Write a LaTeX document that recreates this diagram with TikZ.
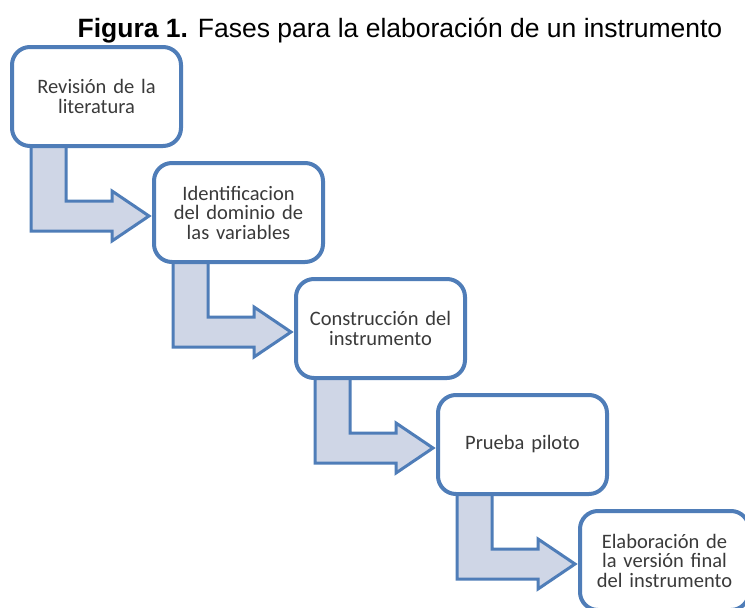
\documentclass[tikz,border=0pt]{standalone}
\usepackage{fontspec}
\setmainfont{Carlito}
\newfontfamily\titlefont{Liberation Sans}
\usetikzlibrary{calc}
\definecolor{boxblue}{HTML}{4F7DB8}
\definecolor{arrfill}{HTML}{CFD6E6}
\definecolor{txtgray}{HTML}{3A3A3A}
\begin{document}
\begin{tikzpicture}[x=1pt,y=-1pt,
  stage/.style={draw=boxblue, line width=4pt, fill=white, rounded corners=18pt,
    minimum width=169pt, minimum height=99pt, inner sep=0pt, align=center,
    text width=166pt, text=txtgray, font=\fontsize{20.5}{19.5}\selectfont},
  bentarrow/.style={draw=boxblue, line width=3pt, fill=arrfill, line join=miter}]
\useasboundingbox (0,0) rectangle (745,608);
\clip (0,0) rectangle (745,608);
\fill[white] (0,0) rectangle (745,608);
\node[anchor=base, font=\titlefont\fontsize{26.5}{30}\selectfont] (title) at (400,37)
  {\textbf{Figura 1.} Fases para la elaboración de un instrumento};
\path (96.5,96.5) coordinate (c1) ++(142,116) coordinate (c2) ++(142,116) coordinate (c3)
  ++(142,116) coordinate (c4) ++(142,116) coordinate (c5);
\foreach \i in {1,...,5} {
  \path (c\i) node[stage, draw=none, fill=none] (b\i) {};
}
\foreach \a/\b in {b1/b2,b2/b3,b3/b4,b4/b5} {
  \path[bentarrow] let \p1=(\a.south west), \p2=(\b.north west) in
    (\x1+21pt,\y1+10pt) -- (\x1+21pt,\y2-70pt) -- (\x2-40pt,\y2-70pt)
    -- (\x2-40pt,\y2-80pt) -- (\x2-3pt,\y2-55pt) -- (\x2-40pt,\y2-30pt)
    -- (\x2-40pt,\y2-40pt) -- (\x1+56pt,\y2-40pt) -- (\x1+56pt,\y1+10pt) -- cycle;
}
\node[stage] (s1) at (c1) {Revisión de la\\literatura};
\node[stage] (s2) at (c2) {Identificacion\\del dominio de\\las variables};
\node[stage] (s3) at (c3) {Construcción del\\instrumento};
\node[stage] (s4) at (c4) {Prueba piloto};
\node[stage] (s5) at (c5) {Elaboración de\\la versión final\\del instrumento};
\end{tikzpicture}
\end{document}
